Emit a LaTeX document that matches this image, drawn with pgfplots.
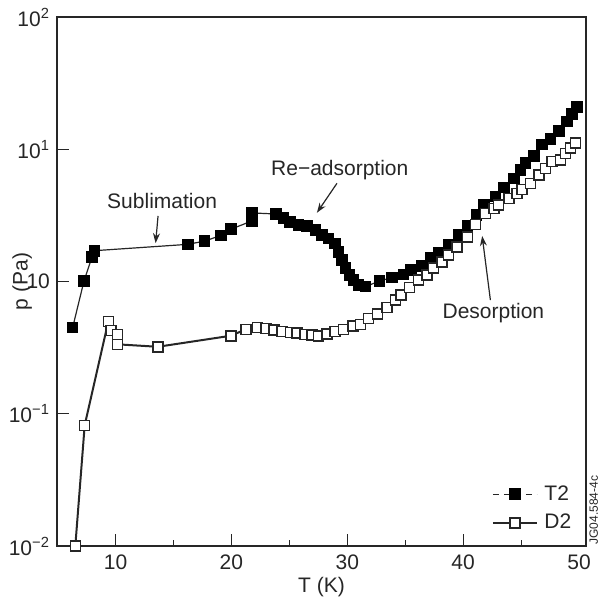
\documentclass[border=0pt]{standalone}
\usepackage{pgfplots}
\pgfplotsset{compat=1.18}
\usepackage{fontspec}
\setmainfont{Liberation Sans}
\usetikzlibrary{arrows.meta}
\definecolor{ink}{HTML}{262626}
\newcommand{\fs}{\fontsize{10.5}{12.6}\selectfont}

\begin{document}
\begin{tikzpicture}
\useasboundingbox (-28.5pt,-27pt) rectangle (271pt,273pt);
\begin{axis}[
  at={(0pt,0pt)}, anchor=south west,
  scale only axis, width=264.5pt, height=264.5pt,
  xmin=4.95, xmax=50.6,
  ymode=log, ymin=1e-2, ymax=1e2,
  axis line style={ink, line width=0.7pt},
  xtick={10,20,30,40}, extra x ticks={50},
  extra x tick style={major tick length=0pt},
  minor xtick={15,25,35,45},
  ytick={1e-2,1e-1,1,1e1,1e2},
  yticklabels={10\textsuperscript{−2},10\textsuperscript{−1},10,10\textsuperscript{1},10\textsuperscript{2}},
  yminorticks=false,
  xtick pos=bottom, ytick pos=left,
  tick align=inside,
  major tick length=6pt, minor tick length=3pt,
  every tick/.style={ink, line width=0.6pt},
  tick label style={font=\fs, text=ink},
  /pgf/number format/assume math mode=true,
  xticklabel style={yshift=-1pt},
  xlabel={T (K)}, ylabel={p (Pa)},
  label style={font=\fs, text=ink},
  xlabel style={at={(axis description cs:0.5,-0.077)}, anchor=center},
  ylabel style={at={(axis description cs:-0.066,0.5)}, anchor=center},
  legend style={at={(0.99,0.015)}, anchor=south east, draw=none, fill=none,
    font=\fs, text=ink, row sep=1.5pt, inner sep=1pt,
    nodes={inner xsep=3.5pt}},
  legend cell align=left,
  legend image code/.code={\draw[mark repeat=2,mark phase=2,#1]
    plot coordinates {(0pt,0pt) (11pt,0pt) (22pt,0pt)};},
  clip=false,
]
% T2
\addplot[ink, line width=0.6pt, mark=square*, mark size=2.6pt,
  mark options={solid, fill=black, draw=black}, forget plot] coordinates {
(6.30,0.448) (7.28,1.01) (7.97,1.53) (8.17,1.71) (16.24,1.91) (17.67,2.02)
(19.11,2.23) (19.98,2.49) (21.77,2.87) (21.77,3.30) (23.87,3.24) (24.50,3.01)
(25.08,2.83) (25.79,2.67) (26.52,2.63) (27.24,2.45) (27.81,2.25) (28.38,2.12)
(28.96,1.94) (29.25,1.68) (29.54,1.45) (29.83,1.26) (30.20,1.12) (30.54,1.03)
(30.98,0.941) (31.56,0.914) (32.79,1.01) (33.86,1.07) (34.86,1.13) (35.50,1.22)
(36.45,1.31) (37.17,1.50) (37.89,1.65) (38.75,1.89) (39.62,2.25) (40.39,2.63)
(41.15,3.18) (41.78,3.79) (42.79,4.38) (43.50,5.15) (44.37,6.03) (44.94,6.97)
(45.38,7.91) (46.10,8.89) (46.82,10.9) (47.54,11.9) (48.25,13.8) (48.98,16.2)
(49.41,18.5) (49.84,20.8)
};
% D2
\addplot[ink, line width=1pt, mark=square*, mark size=2.5pt,
  mark options={solid, fill=white, draw=ink, line width=0.75pt}, forget plot] coordinates {
(6.53,0.0100) (7.34,0.0818) (9.38,0.500) (9.63,0.425) (10.17,0.397) (10.16,0.335)
(13.65,0.321) (19.95,0.389) (21.25,0.435) (22.25,0.448) (23.00,0.443) (23.69,0.430)
(24.36,0.417) (25.08,0.413) (25.65,0.408) (26.37,0.399) (26.95,0.394) (27.52,0.389)
(28.25,0.401) (28.96,0.417) (29.68,0.435) (30.49,0.461) (31.12,0.475) (31.84,0.527)
(32.62,0.568) (33.43,0.638) (34.15,0.724) (34.64,0.790) (35.38,0.903) (36.16,1.03)
(36.89,1.12) (37.46,1.26) (38.18,1.41) (38.75,1.59) (39.48,1.83) (40.39,2.18)
(41.06,2.71) (41.92,3.28) (42.64,3.58) (43.07,3.79) (43.94,4.26) (44.66,4.64)
(45.09,4.98) (45.81,5.53) (46.53,6.38) (47.11,7.18) (47.68,8.05) (48.40,8.29)
(48.83,9.31) (49.27,10.2) (49.70,11.2)
};
\addlegendimage{ink, line width=0.6pt, dash pattern=on 3pt off 2.5pt, mark=square*, mark size=2.6pt, mark options={solid, fill=black, draw=black}}
\addlegendentry{T2}
\addlegendimage{ink, line width=0.7pt, mark=square*, mark size=2.5pt, mark options={solid, fill=white, draw=ink, line width=0.75pt}}
\addlegendentry{D2}
% annotations
\node[font=\fs, text=ink] at (axis cs:14.02,4.06) {Sublimation};
\draw[ink, line width=0.6pt, -{Stealth[length=5pt,width=3.5pt]}] (axis cs:13.67,3.13) -- (axis cs:13.46,1.95);
\node[font=\fs, text=ink] at (axis cs:29.35,6.97) {Re−adsorption};
\draw[ink, line width=0.6pt, -{Stealth[length=5pt,width=3.5pt]}] (axis cs:29.11,5.53) -- (axis cs:27.38,3.31);
\node[font=\fs, text=ink] at (axis cs:42.61,0.578) {Desorption};
\draw[ink, line width=0.6pt, -{Stealth[length=5pt,width=3.5pt]}] (axis cs:42.35,0.724) -- (axis cs:41.64,2.21);
\node[font=\fontsize{6}{7}\selectfont, text=ink, rotate=90, anchor=north west, inner sep=0.5pt]
  at ([xshift=1pt]rel axis cs:1,0) {JG04.584-4c};
\end{axis}
\end{tikzpicture}
\end{document}
